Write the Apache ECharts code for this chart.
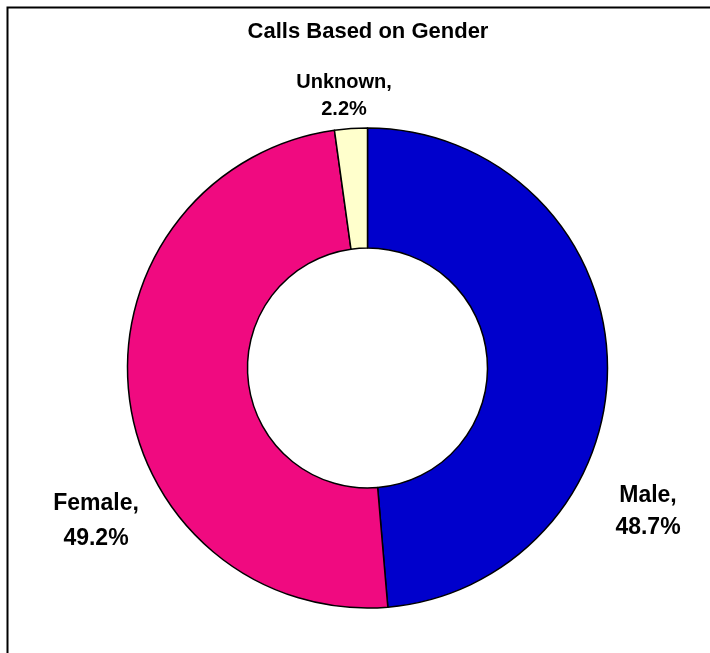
<!DOCTYPE html>
<html>
<head>
<meta charset="utf-8">
<script src="https://cdn.jsdelivr.net/npm/echarts@6/dist/echarts.min.js"></script>
<style>
html,body{margin:0;padding:0;background:#fff;}
#chart{width:710px;height:653px;}
</style>
</head>
<body>
<div id="chart"></div>
<script>
var titleText = 'Calls Based on Gender';
var categories = ['Male', 'Female', 'Unknown'];
var values = [48.7, 49.2, 2.2];

var colors = ['#0000CC', '#F00A80', '#FFFFCC'];
var labelFont = [23, 23, 20];
var labelLine = [32, 35, 27];
var labelPos = [[648, 512], [96, 521], [344, 95.5]];

var data = categories.map(function (name, i) {
  return {
    name: name,
    value: values[i],
    itemStyle: { color: colors[i] },
    label: { fontSize: labelFont[i], lineHeight: labelLine[i] }
  };
});

var chart = echarts.init(document.getElementById('chart'), null, { renderer: 'canvas' });
chart.setOption({
  backgroundColor: '#ffffff',
  animation: false,
  title: {
    text: titleText,
    left: 368,
    top: 32,
    padding: 0,
    textAlign: 'center',
    textVerticalAlign: 'middle',
    textStyle: {
      fontFamily: 'Liberation Sans, Arial, sans-serif',
      fontWeight: 'bold',
      fontSize: 22,
      color: '#000'
    }
  },
  graphic: [{
    type: 'rect',
    shape: { x: 7.5, y: 7.5, width: 900, height: 900 },
    style: { fill: 'none', stroke: '#000', lineWidth: 2 },
    silent: true,
    z: 100
  }],
  series: [{
    type: 'pie',
    center: [367.5, 368],
    radius: [120, 240],
    startAngle: 90,
    clockwise: true,
    avoidLabelOverlap: false,
    itemStyle: { borderColor: '#000', borderWidth: 1.5 },
    emphasis: { disabled: true },
    label: {
      show: true,
      position: 'outside',
      formatter: function (p) { return p.name + ',\n' + p.value.toFixed(1) + '%'; },
      fontFamily: 'Liberation Sans, Arial, sans-serif',
      fontWeight: 'bold',
      color: '#000',
      align: 'center'
    },
    labelLine: { show: false },
    labelLayout: function (params) {
      var pos = labelPos[params.dataIndex];
      return { x: pos[0], y: pos[1], align: 'center', verticalAlign: 'middle' };
    },
    data: data
  }]
});
</script>
</body>
</html>
